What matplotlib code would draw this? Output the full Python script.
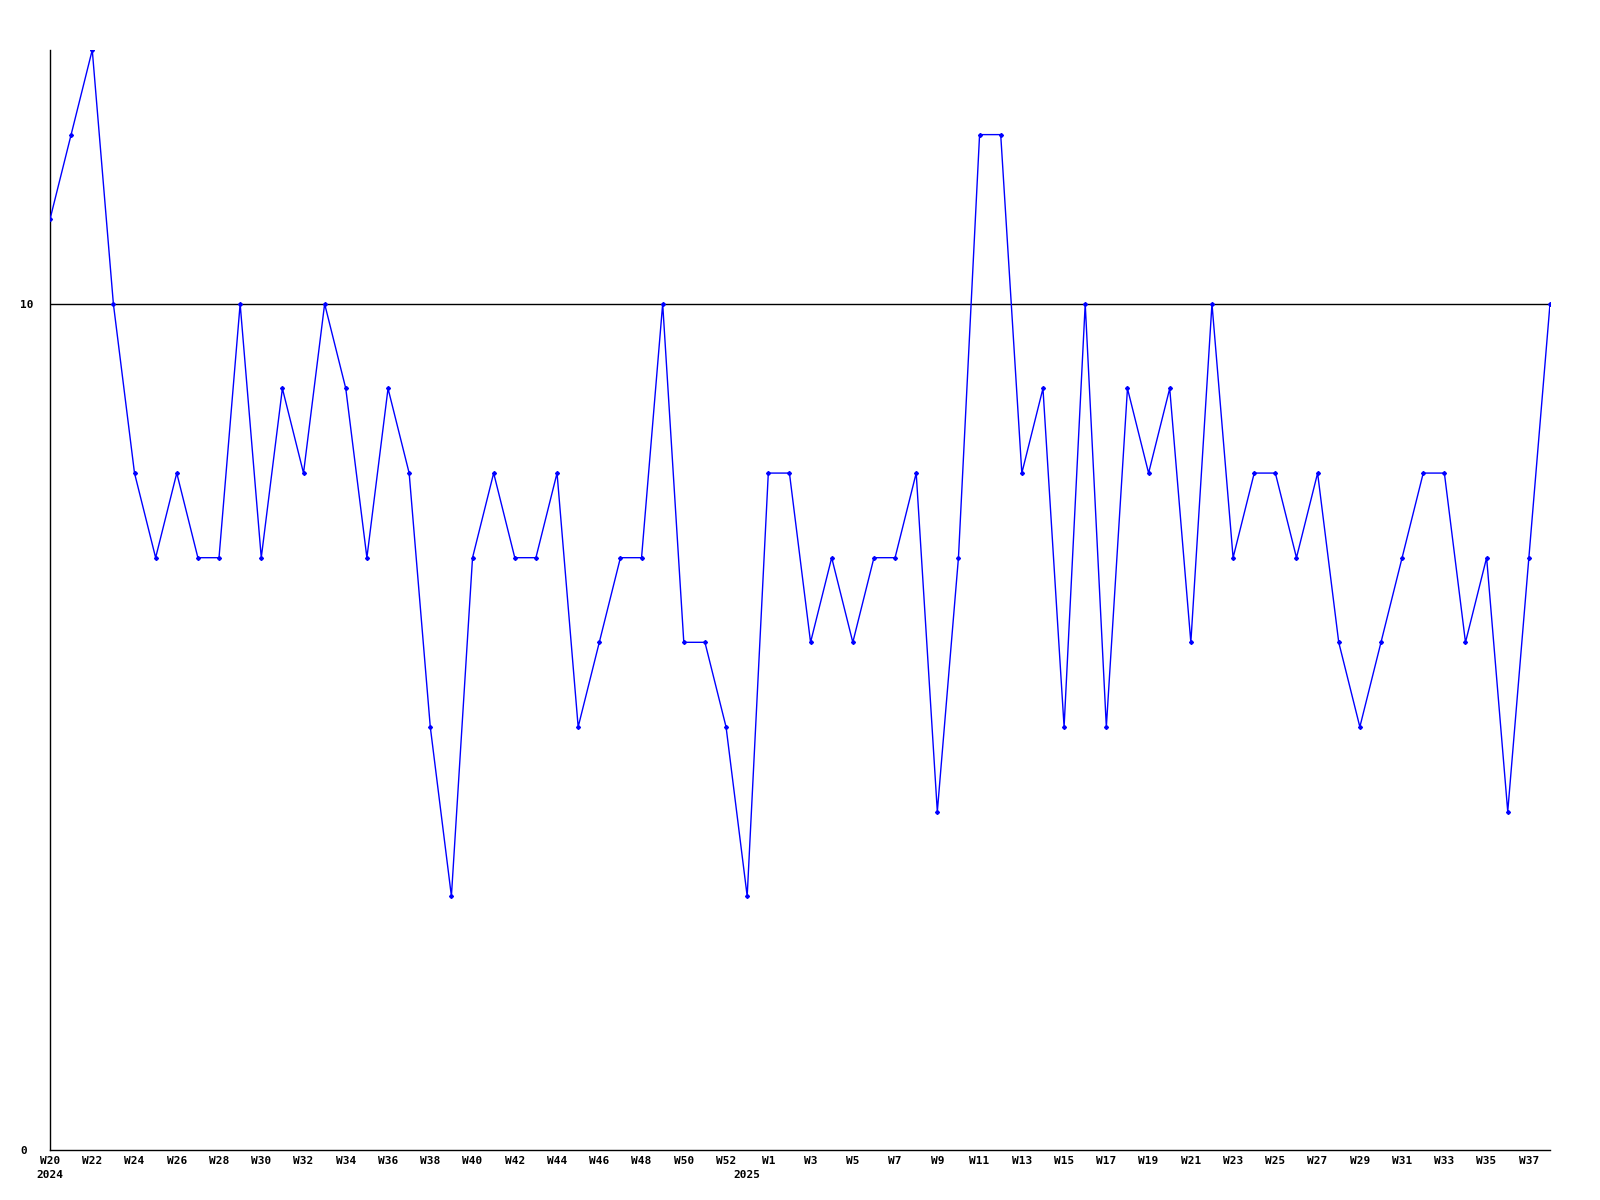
import matplotlib.pyplot as plt
import numpy as np

# weekly counts, W20 2024 .. W38 2025
weeks_2024 = ['W%d' % w for w in range(20, 53)] + ['W53']
weeks_2025 = ['W%d' % w for w in range(1, 39)]
weeks = weeks_2024 + weeks_2025
values = [11, 12, 13, 10, 8, 7, 8, 7, 7, 10, 7, 9, 8, 10, 9, 7, 9, 8, 5, 3,
          7, 8, 7, 7, 8, 5, 6, 7, 7, 10, 6, 6, 5, 3,
          8, 8, 6, 7, 6, 7, 7, 8, 4, 7, 12, 12, 8, 9, 5, 10, 5, 9, 8, 9,
          6, 10, 7, 8, 8, 7, 8, 6, 5, 6, 7, 8, 8, 6, 7, 4, 7, 10]

x = np.arange(len(values))

# every other week labelled, plus year under first week of each year
labels = []
for i, w in enumerate(weeks):
    if i == 0:
        labels.append(w + '\n2024')
    elif i == len(weeks_2024) - 1:
        labels.append('\n2025')
    elif i % 2 == 0:
        labels.append(w)
    else:
        labels.append('')

plt.rcParams['font.family'] = 'DejaVu Sans Mono'
plt.rcParams['font.weight'] = 'bold'

f = plt.figure(figsize=(16, 12), dpi=100)
ax = f.add_axes([50 / 1600, 50 / 1200, 1500 / 1600, 1100 / 1200])

ax.plot(x, values, color='#0000ff', lw=1, marker='D', ms=2, zorder=3)
ax.axhline(10, color='black', lw=1, zorder=2)

ax.set_xlim(0, len(values) - 1)
ax.set_ylim(0, 13)

ax.set_xticks(x)
ax.set_xticklabels(labels, fontsize=8, fontweight='bold', linespacing=1.5)
ax.set_yticks([0, 10])
ax.set_yticklabels(['0', '10'], fontsize=8, fontweight='bold', ha='left')
ax.tick_params(axis='x', length=0, pad=4)
ax.tick_params(axis='y', length=0, pad=21.5)

for s in ['top', 'right']:
    ax.spines[s].set_visible(False)
for s in ['left', 'bottom']:
    ax.spines[s].set_linewidth(1)

f.savefig('out.png', dpi=100)
